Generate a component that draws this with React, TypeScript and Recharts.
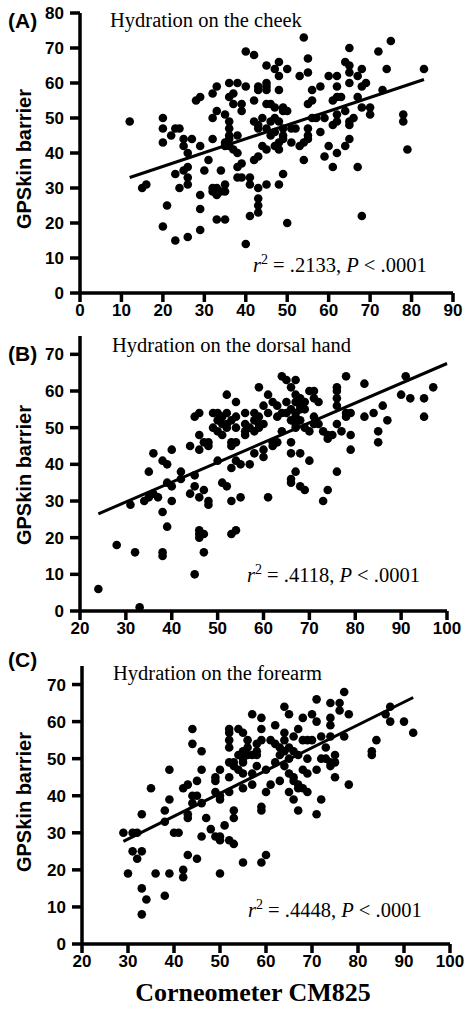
import React from 'react';
import { ScatterChart, Scatter, XAxis, YAxis, ReferenceLine } from 'recharts';

// Panel A: hydration on the cheek
const cheekX = [12,15,16,20,20,20,20,21,22,23,24,23,23,24,25,25,25,26,26,26,26,26,27,28,29,29,29,29,29,30,31,32,32,32,32,32,33,33,33,33,33,34,34,35,35,35,35,35,35,36,36,36,36,36,36,36,37,37,37,38,38,38,38,38,39,39,39,39,40,40,40,41,41,41,42,42,42,42,43,43,43,43,43,43,43,43,43,44,44,45,45,45,45,45,45,45,45,46,46,46,47,47,47,47,47,48,48,48,48,48,48,48,49,49,49,49,49,49,50,50,50,51,51,52,53,53,54,54,54,55,55,55,55,55,55,56,56,56,57,58,58,59,59,60,60,61,61,61,62,62,62,62,62,62,63,64,64,64,65,65,65,65,65,65,65,66,67,67,67,68,68,68,68,69,70,70,72,73,74,75,78,78,79,83];
const cheekY = [49,30,31,50,47,43,19,25,45,47,47,34,15,30,44,42,35,40,36,33,31,16,44,55,56,42,28,24,18,35,38,57,50,44,30,29,59,52,30,28,21,35,29,51,31,29,21,43,42,60,56,49,47,45,44,42,57,54,41,60,45,40,36,33,54,52,37,33,69,59,14,33,31,22,68,55,49,38,59,58,48,39,47,30,27,25,23,50,42,65,60,59,58,54,47,41,31,54,45,49,64,53,50,46,42,66,62,58,49,43,41,31,53,52,47,45,44,34,64,52,20,43,47,47,62,42,73,38,43,67,63,54,47,45,44,58,55,50,50,59,46,50,39,62,42,55,48,36,62,59,56,51,49,40,56,66,52,42,65,63,60,48,44,70,49,50,62,56,36,64,59,53,22,60,53,51,69,58,64,72,51,49,41,64];
const cheekFitX = [12, 83];
const cheekFitY = [33, 61];

// Panel B: hydration on the dorsal hand
const handX = [24,28,31,32,33,34,35,35,36,36,37,38,38,38,38,39,39,39,40,40,40,42,42,44,44,45,45,45,45,46,46,46,46,46,46,46,47,47,47,47,48,48,48,48,49,49,50,50,50,50,51,51,51,51,52,52,52,52,52,53,53,53,53,53,53,54,54,54,54,54,54,55,55,56,56,56,56,57,57,58,58,58,58,59,59,59,59,60,60,60,60,61,61,61,62,62,62,63,63,63,64,64,64,65,65,65,66,66,66,66,66,66,66,67,67,67,67,67,67,67,67,68,68,68,68,68,68,69,69,69,69,70,70,70,71,71,71,71,72,72,73,73,74,74,74,75,76,76,76,76,76,76,77,78,78,78,79,79,79,82,82,84,85,85,86,87,90,91,92,95,95,97];
const handY = [6,18,29,16,1,30,38,31,43,32,31,41,27,16,15,40,35,23,44,34,30,38,36,45,32,53,37,34,10,54,48,44,31,22,21,20,46,33,21,16,46,45,30,29,54,50,54,52,49,41,53,51,48,35,59,54,51,50,34,52,46,45,39,30,21,57,53,50,46,41,22,40,31,54,51,49,48,50,40,54,52,49,43,61,53,51,50,56,51,44,42,59,54,31,57,46,45,56,53,46,64,54,49,63,57,54,61,55,52,46,43,36,35,63,59,57,54,53,51,50,38,58,56,55,52,43,34,57,55,50,33,60,49,41,60,58,53,51,57,51,49,30,48,47,33,48,61,60,58,56,51,38,49,64,54,53,54,48,44,62,53,54,49,46,56,52,59,64,58,58,53,61];
const handFitX = [24, 100];
const handFitY = [26.5, 67.5];

// Panel C: hydration on the forearm
const armX = [29,30,31,31,32,32,33,33,33,33,34,35,36,38,38,38,39,39,39,40,41,42,42,42,43,43,43,43,44,44,44,44,45,45,45,46,46,46,46,47,48,49,49,49,49,50,50,50,50,50,50,51,52,52,52,52,52,52,52,52,53,53,53,53,53,54,54,54,55,55,55,55,55,55,55,56,56,56,57,57,57,57,58,58,58,58,59,59,59,59,59,59,60,60,60,61,61,62,62,62,63,63,63,64,64,64,64,64,65,65,65,65,65,66,66,66,66,66,67,67,67,67,67,68,68,68,68,69,69,69,69,70,70,71,71,71,71,72,72,72,73,73,74,74,74,74,74,74,75,75,75,76,76,77,77,78,78,83,83,84,86,87,87,90,92];
const armY = [30,19,30,25,30,23,35,25,15,8,12,42,19,36,33,13,47,39,19,30,30,42,20,18,43,35,34,24,58,54,40,38,44,40,23,52,47,38,29,34,31,45,44,41,29,47,40,39,29,28,19,32,58,57,55,53,49,45,41,28,49,48,36,34,27,58,51,47,57,52,50,49,46,42,22,53,51,55,62,51,46,43,54,52,48,51,61,58,55,37,36,22,47,41,24,55,43,59,54,49,53,44,51,64,57,55,52,48,62,53,50,46,41,56,52,45,44,39,58,51,43,42,36,61,55,47,42,55,50,46,41,62,55,66,60,47,35,56,50,39,53,50,65,61,59,56,49,48,51,49,45,65,63,68,56,62,43,52,51,55,62,64,60,60,57];
const armFitX = [29, 92];
const armFitY = [27.7, 66.5];

const xTicksA = [0,10,20,30,40,50,60,70,80,90];
const yTicksA = [0,10,20,30,40,50,60,70,80];
const xTicksBC = [20,30,40,50,60,70,80,90,100];
const yTicksBC = [0,10,20,30,40,50,60,70];

const zip = (xs: number[], ys: number[]) => xs.map((x, i) => ({ x, y: ys[i] }));

const SANS = '"Liberation Sans", Arial, sans-serif';
const SERIF = '"Liberation Serif", "Times New Roman", serif';

const Dot = (props: any) => <circle cx={props.cx} cy={props.cy} r={4.3} fill="#000" />;

const axisStyle = { stroke: '#000', strokeWidth: 3.5 };
const tickStyle = { fill: '#000', fontSize: 17, fontWeight: 700, fontFamily: SANS };

type PanelProps = {
  top: number;
  height: number;
  margin: { top: number; right: number; bottom: number; left: number };
  yWidth: number;
  xs: number[];
  ys: number[];
  fitX: number[];
  fitY: number[];
  xDomain: [number, number];
  yDomain: [number, number];
  xTicks: number[];
  yTicks: number[];
};

const Panel = (p: PanelProps) => (
  <div style={{ position: 'absolute', left: 0, top: p.top }}>
    <ScatterChart width={465} height={p.height} margin={p.margin}>
      <XAxis
        type="number"
        dataKey="x"
        domain={p.xDomain}
        ticks={p.xTicks}
        interval={0}
        allowDataOverflow
        axisLine={axisStyle}
        tickLine={axisStyle}
        tickSize={9}
        tickMargin={2}
        height={30}
        tick={tickStyle}
      />
      <YAxis
        type="number"
        dataKey="y"
        domain={p.yDomain}
        ticks={p.yTicks}
        interval={0}
        allowDataOverflow
        axisLine={axisStyle}
        tickLine={axisStyle}
        tickSize={10}
        tickMargin={6}
        width={p.yWidth}
        tick={tickStyle}
      />
      <Scatter data={zip(p.xs, p.ys)} shape={Dot} isAnimationActive={false} />
      <ReferenceLine
        segment={[{ x: p.fitX[0], y: p.fitY[0] }, { x: p.fitX[1], y: p.fitY[1] }]}
        stroke="#000"
        strokeWidth={3}
        ifOverflow="visible"
      />
    </ScatterChart>
  </div>
);

const Stat = ({ x, y, value }: { x: number; y: number; value: string }) => (
  <text x={x} y={y} fontFamily={SERIF} fontSize={20.5} fill="#000">
    <tspan fontStyle="italic">r</tspan>
    <tspan dy={-8} fontSize={14}>2</tspan>
    <tspan dy={8}>{` = ${value}, `}</tspan>
    <tspan fontStyle="italic">P</tspan>
    <tspan>{' < .0001'}</tspan>
  </text>
);

const YLabel = ({ cy }: { cy: number }) => (
  <text
    x={0}
    y={0}
    transform={`translate(31, ${cy}) rotate(-90)`}
    textAnchor="middle"
    fontFamily={SANS}
    fontWeight={700}
    fontSize={20}
    fill="#000"
  >
    GPSkin barrier
  </text>
);

export default function App() {
  return (
    <div style={{ position: 'absolute', left: 0, top: 0, width: 465, height: 1009, background: '#fff' }}>
      <Panel
        top={0}
        height={340}
        margin={{ top: 13, right: 12, bottom: 17, left: 0 }}
        yWidth={80}
        xs={cheekX}
        ys={cheekY}
        fitX={cheekFitX}
        fitY={cheekFitY}
        xDomain={[0, 90]}
        yDomain={[0, 80]}
        xTicks={xTicksA}
        yTicks={yTicksA}
      />
      <Panel
        top={320}
        height={340}
        margin={{ top: 16, right: 18, bottom: 19, left: 0 }}
        yWidth={80}
        xs={handX}
        ys={handY}
        fitX={handFitX}
        fitY={handFitY}
        xDomain={[20, 100]}
        yDomain={[0, 75]}
        xTicks={xTicksBC}
        yTicks={yTicksBC}
      />
      <Panel
        top={640}
        height={340}
        margin={{ top: 26, right: 15, bottom: 6, left: 0 }}
        yWidth={82}
        xs={armX}
        ys={armY}
        fitX={armFitX}
        fitY={armFitY}
        xDomain={[20, 100]}
        yDomain={[0, 75]}
        xTicks={xTicksBC}
        yTicks={yTicksBC}
      />
      <svg
        width={465}
        height={1009}
        style={{ position: 'absolute', left: 0, top: 0, pointerEvents: 'none' }}
      >
        <text x={8} y={28} fontFamily={SANS} fontWeight={700} fontSize={21} fill="#000">(A)</text>
        <text x={8} y={361} fontFamily={SANS} fontWeight={700} fontSize={21} fill="#000">(B)</text>
        <text x={8} y={667} fontFamily={SANS} fontWeight={700} fontSize={21} fill="#000">(C)</text>

        <text x={110} y={27} fontFamily={SERIF} fontSize={20.5} fill="#000">Hydration on the cheek</text>
        <text x={112} y={352} fontFamily={SERIF} fontSize={20.5} fill="#000">Hydration on the dorsal hand</text>
        <text x={113} y={680} fontFamily={SERIF} fontSize={20.5} fill="#000">Hydration on the forearm</text>

        <Stat x={253} y={272} value=".2133" />
        <Stat x={247} y={582} value=".4118" />
        <Stat x={248} y={917} value=".4448" />

        <YLabel cy={159} />
        <YLabel cy={475} />
        <YLabel cy={802} />

        <text x={253} y={1001} textAnchor="middle" fontFamily={SERIF} fontWeight={700} fontSize={26} fill="#000">
          Corneometer CM825
        </text>
      </svg>
    </div>
  );
}
